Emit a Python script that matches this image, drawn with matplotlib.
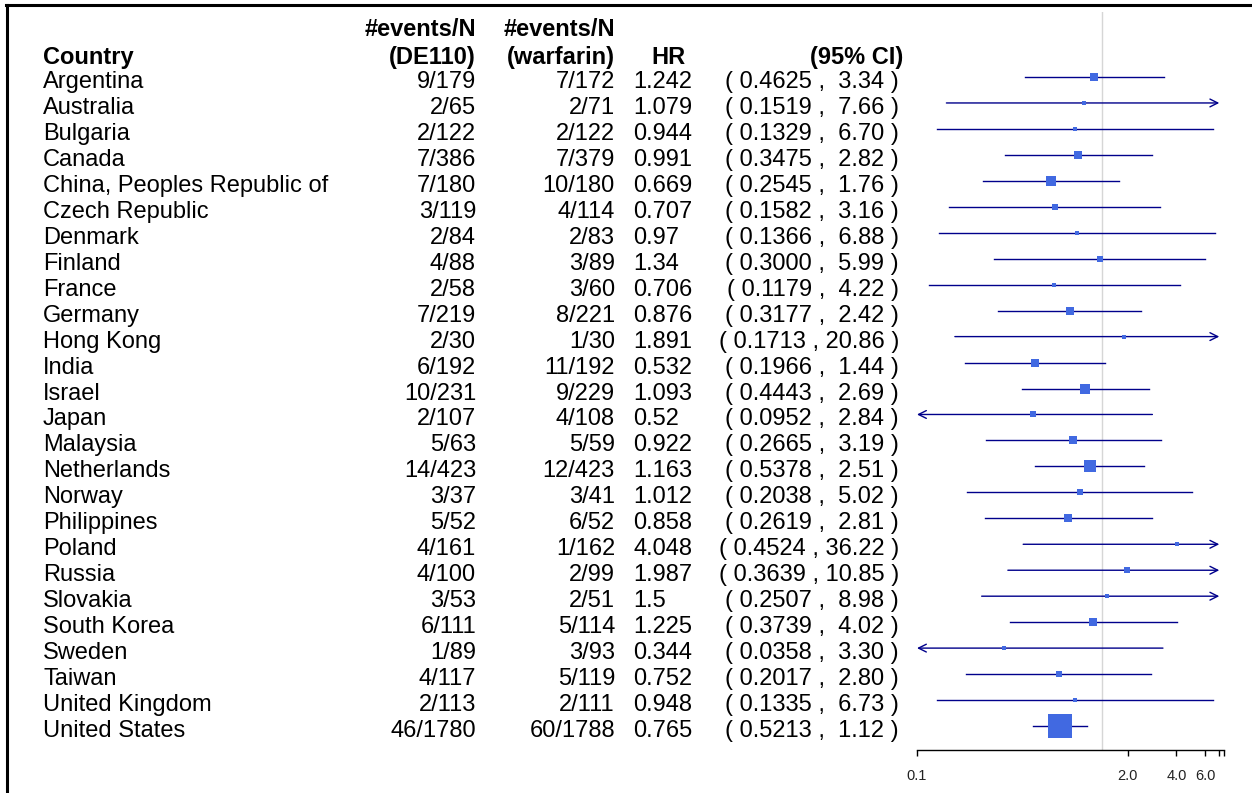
import matplotlib
matplotlib.use("Agg")
import matplotlib.pyplot as plt
import matplotlib.transforms as mtransforms
from matplotlib.lines import Line2D
from matplotlib.ticker import FixedLocator, NullLocator
import numpy as np

countries = [
    "Argentina", "Australia", "Bulgaria", "Canada", "China, Peoples Republic of",
    "Czech Republic", "Denmark", "Finland", "France", "Germany", "Hong Kong",
    "India", "Israel", "Japan", "Malaysia", "Netherlands", "Norway",
    "Philippines", "Poland", "Russia", "Slovakia", "South Korea", "Sweden",
    "Taiwan", "United Kingdom", "United States",
]
de_events = [9, 2, 2, 7, 7, 3, 2, 4, 2, 7, 2, 6, 10, 2, 5, 14, 3, 5, 4, 4, 3, 6, 1, 4, 2, 46]
de_n = [179, 65, 122, 386, 180, 119, 84, 88, 58, 219, 30, 192, 231, 107, 63, 423, 37,
        52, 161, 100, 53, 111, 89, 117, 113, 1780]
wf_events = [7, 2, 2, 7, 10, 4, 2, 3, 3, 8, 1, 11, 9, 4, 5, 12, 3, 6, 1, 2, 2, 5, 3, 5, 2, 60]
wf_n = [172, 71, 122, 379, 180, 114, 83, 89, 60, 221, 30, 192, 229, 108, 59, 423, 41,
        52, 162, 99, 51, 114, 93, 119, 111, 1788]
hr = [1.242, 1.079, 0.944, 0.991, 0.669, 0.707, 0.97, 1.34, 0.706, 0.876, 1.891,
      0.532, 1.093, 0.52, 0.922, 1.163, 1.012, 0.858, 4.048, 1.987, 1.5, 1.225,
      0.344, 0.752, 0.948, 0.765]
ci_lo = [0.4625, 0.1519, 0.1329, 0.3475, 0.2545, 0.1582, 0.1366, 0.3000, 0.1179,
         0.3177, 0.1713, 0.1966, 0.4443, 0.0952, 0.2665, 0.5378, 0.2038, 0.2619,
         0.4524, 0.3639, 0.2507, 0.3739, 0.0358, 0.2017, 0.1335, 0.5213]
ci_hi = [3.34, 7.66, 6.70, 2.82, 1.76, 3.16, 6.88, 5.99, 4.22, 2.42, 20.86, 1.44,
         2.69, 2.84, 3.19, 2.51, 5.02, 2.81, 36.22, 10.85, 8.98, 4.02, 3.30, 2.80,
         6.73, 1.12]

xticks = [0.1, 2.0, 4.0, 6.0, 7.35, 7.86]
xtick_labels = ["0.1", "2.0", "4.0", "6.0", "", ""]
clip = (0.1, 7.35)
ref_line = 1.39

line_color = "#00008b"
box_color = "#4169e1"
plt.rcParams["font.family"] = ["Liberation Sans", "DejaVu Sans"]

W, H = 1252, 793
fig = plt.figure(figsize=(W / 100, H / 100), dpi=100)
ax = fig.add_axes([917 / W, 1 - 750 / H, (1224 - 917) / W, (750 - 12) / H])
ax.set_xscale("log")
ax.set_xlim(0.1, 7.86)
ax.set_ylim(25.925, -2.504)

# forest marks: CI line (arrow when clipped) plus a box sized by precision
for i in range(len(countries)):
    lo, hi = ci_lo[i], ci_hi[i]
    lo_c, hi_c = max(lo, clip[0]), min(hi, clip[1])
    if hi > clip[1]:
        ax.annotate("", xy=(hi_c, i), xytext=(lo_c, i),
                    arrowprops=dict(arrowstyle="->", color=line_color, lw=1.0,
                                    shrinkA=0, shrinkB=0, mutation_scale=14))
    elif lo < clip[0]:
        ax.annotate("", xy=(lo_c, i), xytext=(hi_c, i),
                    arrowprops=dict(arrowstyle="->", color=line_color, lw=1.0,
                                    shrinkA=0, shrinkB=0, mutation_scale=14))
    else:
        ax.plot([lo, hi], [i, i], color=line_color, lw=1.0)
    box_px = 17.6 / np.log(hi / lo)
    ax.plot(hr[i], i, marker="s", ms=box_px * 0.72, color=box_color,
            mew=0, zorder=3)

ax.axvline(ref_line, color="#d6d6d6", lw=1.0, zorder=0)

for side in ("top", "left", "right"):
    ax.spines[side].set_visible(False)
ax.spines["bottom"].set_linewidth(1.0)
ax.set_yticks([])
ax.xaxis.set_major_locator(FixedLocator(xticks))
ax.xaxis.set_minor_locator(NullLocator())
ax.set_xticklabels(xtick_labels)
ax.tick_params(axis="x", length=4.5, width=1.0, pad=9, labelsize=10.5,
               labelcolor="#222222")

# table text
trans = mtransforms.blended_transform_factory(fig.transFigure, ax.transData)
fs = 17
base = 11 / 25.96
line2 = (64 - 77) / 25.96
line1 = (36 - 77) / 25.96


def put(x_px, y, s, ha, bold=False):
    ax.text(x_px / W, y, s, transform=trans, ha=ha, va="baseline", fontsize=fs,
            fontweight="bold" if bold else "normal", clip_on=False)


put(43, line2, "Country", "left", True)
put(476, line1, "#events/N", "right", True)
put(476, line2, "(DE110)", "right", True)
put(615, line1, "#events/N", "right", True)
put(615, line2, "(warfarin)", "right", True)
put(668, line2, "HR", "center", True)
put(903, line2, "(95% CI)", "right", True)

for i, name in enumerate(countries):
    y = i + base
    put(43, y, name, "left")
    put(476, y, f"{de_events[i]}/{de_n[i]}", "right")
    put(615, y, f"{wf_events[i]}/{wf_n[i]}", "right")
    put(633, y, f"{hr[i]:g}", "left")
    put(899, y, f"( {ci_lo[i]:.4f} , {ci_hi[i]:5.2f} )", "right")

# frame edges
fig.add_artist(Line2D([6 / W, 1], [1 - 5 / H, 1 - 5 / H], transform=fig.transFigure,
                      color="black", lw=2.2))
fig.add_artist(Line2D([7 / W, 7 / W], [0, 1 - 5 / H], transform=fig.transFigure,
                      color="black", lw=2.2))

fig.savefig("out.png", dpi=100)
